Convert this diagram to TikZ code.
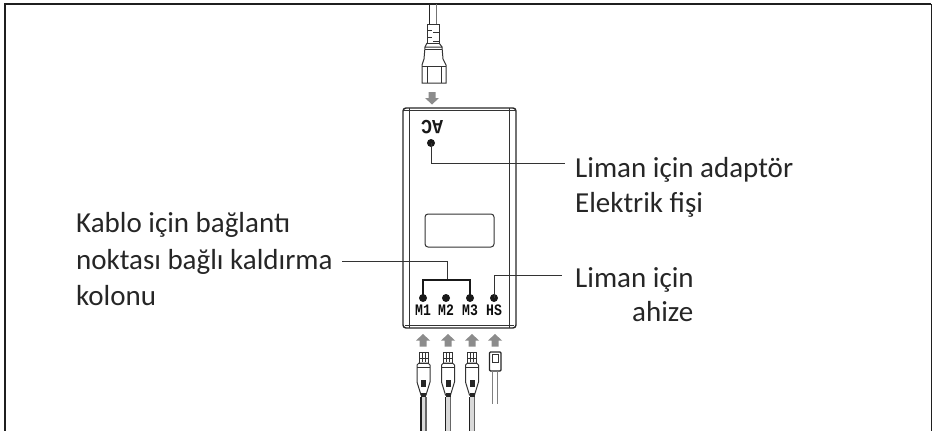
\documentclass[tikz,border=0pt]{standalone}
\usepackage{fontspec}
\setmainfont{Carlito}
\newfontfamily\labelmono{Liberation Mono}
\tikzset{
  frameline/.style={draw=black!88,line width=2pt},
  bodyline/.style={draw=black!85,line width=1.4pt},
  thinline/.style={draw=black!80,line width=1pt},
  leader/.style={draw=black!80,line width=0.8pt},
  busline/.style={draw=black!90,line width=1.8pt},
  portdot/.style={circle,fill=black!90,inner sep=0pt,minimum size=8pt},
  portlabel/.style={font=\labelmono\bfseries\fontsize{16}{17}\selectfont,xscale=0.82,inner sep=0pt,anchor=base,text=black!95},
  caption/.style={font=\fontsize{29}{32}\selectfont,anchor=base west,inner sep=0pt,text=black!85},
  gArrow/.style={fill=black!45,draw=none},
  pics/grayarrow/.style={code={
    \fill[gArrow] (-7,0) -- (0,-6.5) -- (7,0) -- (3.5,0) -- (3.5,6) -- (-3.5,6) -- (-3.5,0) -- cycle;
  }},
  pics/grayarrowdown/.style={code={
    \fill[gArrow] (-7,0) -- (0,6.5) -- (7,0) -- (3.5,0) -- (3.5,-6) -- (-3.5,-6) -- (-3.5,0) -- cycle;
  }},
  pics/rjplug/.style={code={
    \draw[thinline] (-4.5,0) -- (-4.5,11) -- (4.5,11) -- (4.5,0) -- cycle;
    \draw[thinline] (-1.5,0) -- (-1.5,10) (1.5,0) -- (1.5,10) (-4.5,6) -- (4.5,6);
    \draw[thinline] (-6.5,13) -- (-6.5,30) -- (-2.5,43) -- (2.5,43) -- (6.5,30) -- (6.5,13) -- (4.5,11) -- (-4.5,11) -- cycle;
    \draw[thinline] (-6.5,15) -- (6.5,15);
    \fill[black!85] (-2.5,28) rectangle (2.5,35);
    \fill[black!85] (-2.5,41) rectangle (2.5,45);
    \fill[black!15] (-2.5,45) rectangle (2.5,79);
    \draw[draw=black!88,line width=1.5pt] (-2.6,45) -- (-2.6,79);
    \draw[draw=black!60,line width=1.5pt] (2.6,45) -- (2.6,79);
  }}
}
\begin{document}
\begin{tikzpicture}[x=1pt,y=-1pt]
\useasboundingbox (0,0) rectangle (932,431);
% frame
\draw[frameline] (5,431) -- (5,4) -- (931,4);
\draw[draw=black!88,line width=1pt] (931,4) -- (931,431);
% mains plug
\draw[draw=black!85,line width=1.2pt] (429.5,4) -- (429.5,24);
\draw[draw=black!55,line width=1.4pt] (436.5,4) -- (436.5,24);
\draw[thinline] (427,24) rectangle (439,43);
\draw[thinline] (427,30) -- (432,30) (433,32) -- (439,32) (427,37) -- (432,37) (433,41) -- (439,41);
\draw[thinline] (425,47) -- (442,47) -- (443,59) -- (446,65) -- (446,83) -- (422,83) -- (422,65) -- (424,59) -- cycle;
\draw[thinline] (427,43) -- (425,47) (439,43) -- (442,47);
\draw[thinline] (425,49.5) -- (442,49.5) (427,66) -- (427,83) (441,66) -- (441,83) (422,66) -- (446,66);
\pic at (432,98) {grayarrowdown};
% adapter body
\draw[bodyline,rounded corners=3pt] (403,328) -- (403,108) -- (516,108) -- (516,328) -- cycle;
\draw[thinline] (409.5,108) -- (409.5,328) (509.5,108) -- (509.5,328) (403,110.5) -- (516,110.5) (405,325) -- (514,325);
\draw[thinline,rounded corners=3pt] (425,214) rectangle (494,247);
\node[font=\labelmono\bfseries\fontsize{20}{22}\selectfont,xscale=0.92,rotate=180,inner sep=0pt,text=black!90] (ac) at (432,127) {AC};
\node[portdot] (dac) at (431,143) {};
\node[portdot] (d1) at (423,298) {};
\node[portdot] (d2) at (446,298) {};
\node[portdot] (d3) at (470,298) {};
\node[portdot] (d4) at (494,298) {};
\node[portlabel] (m1) at (423,315) {M1};
\node[portlabel] (m2) at (446,315) {M2};
\node[portlabel] (m3) at (470,315) {M3};
\node[portlabel] (hs) at (494,315) {HS};
% captions
\node[caption] (t1) at (575,177) {Liman için adaptör};
\node[caption] (t2) at (575,212) {Elektrik fişi};
\node[caption] (t3) at (575,287) {Liman için};
\node[caption] (t4) at (632,321) {ahize};
\node[caption] (t5) at (76,232) {Kablo için bağlantı};
\node[caption] (t6) at (76,269) {noktası bağlı kaldırma};
\node[caption] (t7) at (76,305) {kolonu};
% leaders
\coordinate (e1) at (565,163);
\coordinate (e2) at (562,275);
\coordinate (e3) at (342,261);
\coordinate (busmid) at (447,280);
\draw[leader] (dac.center) |- (e1);
\draw[leader] (d4.center) |- (e2);
\draw[leader] (busmid) |- (e3);
\draw[busline] (d1.center) |- (busmid) -| (d3.center);
% arrows
\pic at (423,340.5) {grayarrow};
\pic at (448,340.5) {grayarrow};
\pic at (472,340.5) {grayarrow};
\pic at (495,340.5) {grayarrow};
% plugs
\pic at (423.5,352) {rjplug};
\pic at (448,352) {rjplug};
\pic at (472,352) {rjplug};
\draw[draw=black!85,line width=1.3pt,rounded corners=1pt] (489.5,352) rectangle (501,371);
\draw[thinline] (492.5,354) rectangle (498,362);
\draw[draw=black!50,line width=1pt] (492.3,371) -- (492.3,404) (497.3,371) -- (497.3,404);
\end{tikzpicture}
\end{document}
